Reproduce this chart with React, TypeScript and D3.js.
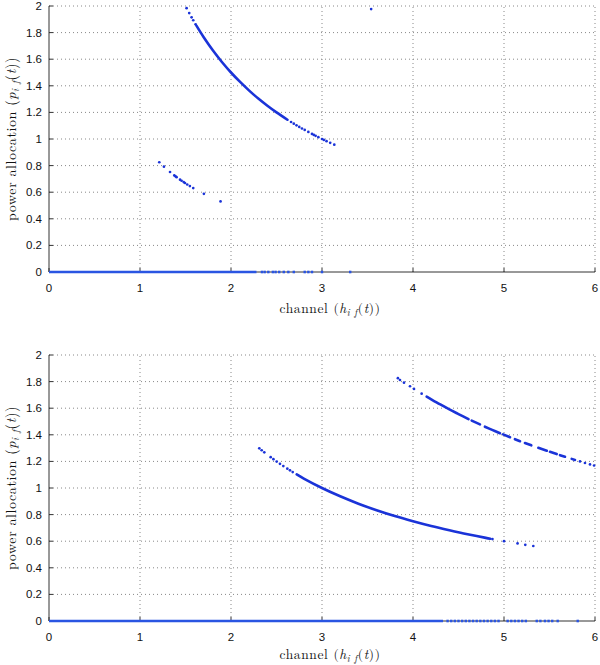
import React from "react";
import * as d3 from "d3";

// ---------- data ----------
const X_TICKS = [0, 1, 2, 3, 4, 5, 6];
const Y_TICKS = [0, 0.2, 0.4, 0.6, 0.8, 1, 1.2, 1.4, 1.6, 1.8, 2];

// Top panel
const TOP_ZERO_END = 2.28;
const TOP_ZERO_DOTS = [2.34, 2.37, 2.41, 2.46, 2.49, 2.53, 2.58, 2.63, 2.69, 2.81, 2.85, 2.89, 3.0, 3.31];
const TOP_MAIN_SEGMENTS: [number, number][][] = [
  [[1.62, 1.852], [1.7, 1.765], [1.8, 1.667], [1.9, 1.579], [2.0, 1.5], [2.1, 1.429], [2.2, 1.364], [2.3, 1.304], [2.4, 1.25], [2.5, 1.2], [2.62, 1.145]],
];
const TOP_MAIN_DOTS: [number, number][] = [
  [1.512, 1.984], [1.541, 1.947], [1.567, 1.915], [1.585, 1.893], [1.611, 1.862],
  [2.66, 1.128], [2.69, 1.115], [2.72, 1.103], [2.75, 1.091], [2.78, 1.079], [2.81, 1.068], [2.85, 1.053],
  [2.89, 1.038], [2.91, 1.031], [2.93, 1.024], [2.96, 1.014], [3.0, 1.0], [3.02, 0.993], [3.05, 0.984],
  [3.09, 0.971], [3.135, 0.957],
];
const TOP_SMALL_DOTS: [number, number][] = [
  [1.212, 0.825], [1.263, 0.792], [1.33, 0.752], [1.377, 0.726], [1.39, 0.719], [1.402, 0.713], [1.44, 0.694],
  [1.457, 0.686], [1.48, 0.676], [1.494, 0.669], [1.519, 0.658], [1.548, 0.646], [1.585, 0.631], [1.702, 0.588], [1.885, 0.531],
];
const TOP_OUTLIER: [number, number][] = [[3.54, 1.977]];

// Bottom panel
const BOT_ZERO_END = 4.33;
const BOT_ZERO_DOTS = [4.38, 4.42, 4.46, 4.5, 4.54, 4.58, 4.62, 4.66, 4.7, 4.74, 4.78, 4.82, 4.86, 4.9, 4.94,
  5.04, 5.08, 5.12, 5.16, 5.2, 5.24, 5.36, 5.4, 5.45, 5.49, 5.53, 5.59, 5.81];
const BOT_UPPER_SEGMENTS: [number, number][][] = [
  [[4.15, 1.687], [4.2, 1.667], [4.3, 1.628], [4.4, 1.591], [4.5, 1.556], [4.61, 1.518]],
  [[4.645, 1.507], [4.736, 1.478]],
  [[4.79, 1.461], [4.87, 1.437], [4.956, 1.412]],
  [[4.99, 1.403], [5.066, 1.382]],
  [[5.12, 1.367], [5.176, 1.352]],
  [[5.23, 1.338], [5.3, 1.321]],
  [[5.377, 1.302], [5.47, 1.28]],
  [[5.505, 1.272], [5.579, 1.255]],
  [[5.615, 1.247], [5.67, 1.235]],
  [[5.744, 1.219], [5.78, 1.211]],
];
const BOT_UPPER_DOTS: [number, number][] = [
  [3.834, 1.826], [3.857, 1.812], [3.901, 1.792], [3.967, 1.765], [4.011, 1.745], [4.095, 1.709],
  [5.835, 1.2], [5.89, 1.188], [5.945, 1.177], [5.99, 1.169],
];
const BOT_LOWER_SEGMENTS: [number, number][][] = [
  [[2.722, 1.102], [2.8, 1.071], [3.0, 1.0], [3.2, 0.9375], [3.4, 0.882], [3.6, 0.833], [3.8, 0.789], [4.0, 0.75],
   [4.2, 0.714], [4.4, 0.682], [4.6, 0.652], [4.8, 0.625], [4.85, 0.619]],
];
const BOT_LOWER_DOTS: [number, number][] = [
  [2.311, 1.298], [2.337, 1.284], [2.366, 1.268], [2.436, 1.232], [2.466, 1.217], [2.502, 1.199], [2.538, 1.182],
  [2.575, 1.165], [2.619, 1.145], [2.648, 1.133], [2.678, 1.12],
  [4.873, 0.616], [5.0, 0.6], [5.149, 0.583], [5.234, 0.573], [5.322, 0.564],
];

// ---------- drawing ----------
const BLUE = "#1a33d8";
const ZERO_BLUE = "#2a55e2";
const SANS = "'Liberation Sans', Arial, Helvetica, sans-serif";
const SERIF = "'Latin Modern Roman', 'Liberation Serif', 'DejaVu Serif', serif";

type PanelProps = {
  top: number;
  bottom: number;
  titleOffset: number;
  zeroEnd: number;
  zeroDots: number[];
  segments: [number, number][][];
  dots: [number, number][];
};

function Panel({ top, bottom, titleOffset, zeroEnd, zeroDots, segments, dots }: PanelProps) {
  const left = 49;
  const right = 595;
  const x = d3.scaleLinear().domain([0, 6]).range([left, right]);
  const y = d3.scaleLinear().domain([0, 2]).range([bottom, top]);
  const line = d3.line<[number, number]>().x((d) => x(d[0])).y((d) => y(d[1])).curve(d3.curveCatmullRom);
  const fmt = (v: number) => String(+v.toFixed(1));
  const midY = (top + bottom) / 2;
  const midX = (left + right) / 2;

  return (
    <g>
      {/* grid */}
      {X_TICKS.filter((t) => t > 0).map((t) => (
        <line key={"gx" + t} x1={x(t)} x2={x(t)} y1={y(0)} y2={y(2)} stroke="#888" strokeWidth={1} strokeDasharray="1,3" />
      ))}
      {Y_TICKS.filter((t) => t > 0).map((t) => (
        <line key={"gy" + t} x1={x(0)} x2={x(6)} y1={y(t)} y2={y(t)} stroke="#888" strokeWidth={1} strokeDasharray="1,3" />
      ))}
      {/* axes */}
      <line x1={x(0)} x2={x(0)} y1={y(0)} y2={y(2)} stroke="#333" strokeWidth={1} />
      <line x1={x(0)} x2={x(6)} y1={y(0)} y2={y(0)} stroke="#333" strokeWidth={1} />
      {Y_TICKS.map((t) => (
        <line key={"ty" + t} x1={x(0)} x2={x(0) + 4} y1={y(t)} y2={y(t)} stroke="#333" strokeWidth={1} />
      ))}
      {X_TICKS.map((t) => (
        <line key={"tx" + t} x1={x(t)} x2={x(t)} y1={y(0)} y2={y(0) - 4} stroke="#333" strokeWidth={1} />
      ))}
      {Y_TICKS.map((t) => (
        <text key={"ly" + t} x={x(0) - 7} y={y(t) + 4} textAnchor="end" fontFamily={SANS} fontSize={11.5} fill="#111">
          {fmt(t)}
        </text>
      ))}
      {X_TICKS.map((t) => (
        <text key={"lx" + t} x={x(t)} y={y(0) + 20} textAnchor="middle" fontFamily={SANS} fontSize={11.5} fill="#111">
          {fmt(t)}
        </text>
      ))}
      {/* titles */}
      <text x={midX + 8} y={y(0) + titleOffset} textAnchor="middle" fontFamily={SERIF} fontSize={13.5} letterSpacing={0.6} fill="#111">
        <tspan>channel (</tspan>
        <tspan fontStyle="italic">h</tspan>
        <tspan fontStyle="italic" fontSize={9.5} dy={3}>i f</tspan>
        <tspan dy={-3}>(</tspan>
        <tspan fontStyle="italic">t</tspan>
        <tspan>))</tspan>
      </text>
      <text
        transform={`translate(16,${midY}) rotate(-90)`}
        textAnchor="middle"
        fontFamily={SERIF}
        fontSize={14}
        letterSpacing={0.6}
        fill="#111"
      >
        <tspan>power allocation (</tspan>
        <tspan fontStyle="italic">p</tspan>
        <tspan fontStyle="italic" fontSize={10} dy={3}>i f</tspan>
        <tspan dy={-3}>(</tspan>
        <tspan fontStyle="italic">t</tspan>
        <tspan>))</tspan>
      </text>
      {/* zero line */}
      <line x1={x(0)} x2={x(zeroEnd)} y1={y(0)} y2={y(0)} stroke={ZERO_BLUE} strokeWidth={2.6} />
      {zeroDots.map((h, i) => (
        <rect key={"z" + i} x={x(h) - 1.2} y={y(0) - 1.3} width={2.4} height={2.6} fill={ZERO_BLUE} />
      ))}
      {/* curves */}
      {segments.map((s, i) => (
        <path key={"s" + i} d={line(s) || ""} fill="none" stroke={BLUE} strokeWidth={2.6} strokeLinecap="round" />
      ))}
      {dots.map((d, i) => (
        <circle key={"d" + i} cx={x(d[0])} cy={y(d[1])} r={1.35} fill={BLUE} />
      ))}
    </g>
  );
}

export default function App() {
  return (
    <svg
      width={600}
      height={665}
      style={{ position: "absolute", left: 0, top: 0, background: "#fff" }}
    >
      <rect width={600} height={665} fill="#fff" />
      <Panel
        top={6}
        bottom={272}
        titleOffset={41}
        zeroEnd={TOP_ZERO_END}
        zeroDots={TOP_ZERO_DOTS}
        segments={TOP_MAIN_SEGMENTS}
        dots={[...TOP_MAIN_DOTS, ...TOP_SMALL_DOTS, ...TOP_OUTLIER]}
      />
      <Panel
        top={355}
        bottom={621}
        titleOffset={38}
        zeroEnd={BOT_ZERO_END}
        zeroDots={BOT_ZERO_DOTS}
        segments={[...BOT_UPPER_SEGMENTS, ...BOT_LOWER_SEGMENTS]}
        dots={[...BOT_UPPER_DOTS, ...BOT_LOWER_DOTS]}
      />
    </svg>
  );
}
